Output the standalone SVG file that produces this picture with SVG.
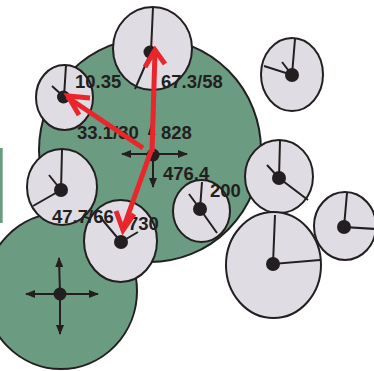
<svg xmlns="http://www.w3.org/2000/svg" width="374" height="371" viewBox="0 0 374 371">
  <defs>
    <style>
      .zone { fill: #6b9b81; stroke: #231f20; stroke-width: 2; }
      .pie { fill: #e0dce3; stroke: #231f20; stroke-width: 2; }
      .spoke { stroke: #231f20; stroke-width: 2; fill: none; stroke-linecap: butt; }
      .hub { fill: #231f20; }
      .move { stroke: #231f20; stroke-width: 2; fill: none; }
      .flow { stroke: #e8262b; stroke-width: 5; fill: none; stroke-linecap: butt; }
      .flowhead { stroke: #e8262b; stroke-width: 5; fill: none; stroke-linejoin: miter; stroke-miterlimit: 10; }
      .lbl { font-family: "Liberation Sans", Arial, sans-serif; font-weight: bold; font-size: 18.5px; fill: #231f20; }
    </style>
    <marker id="tri" viewBox="0 0 10 8" refX="9" refY="4" markerWidth="10" markerHeight="8" markerUnits="userSpaceOnUse" orient="auto">
      <path d="M0,0 L10,4 L0,8 Z" fill="#231f20"/>
    </marker>
  </defs>

  <!-- background zones -->
  <g id="zones">
    <rect x="0" y="148" width="2.7" height="75" fill="#6b9b81"/>
    <ellipse id="zone-main" class="zone" cx="150" cy="150" rx="111" ry="112"/>
    <ellipse id="zone-low" class="zone" cx="61" cy="291" rx="76" ry="78"/>
  </g>

  <!-- pie nodes -->
  <g id="node-top">
    <ellipse class="pie" cx="152.5" cy="48.5" rx="39.5" ry="41.5"/>
    <path class="spoke" d="M153,7 L151,52 L135,89"/>
    <circle class="hub" cx="150" cy="52" r="6.5"/>
  </g>
  <g id="node-a">
    <ellipse class="pie" cx="64.5" cy="97.5" rx="28.5" ry="32.5"/>
    <path class="spoke" d="M66,65 L64,97 M52,86 L64,97"/>
    <circle class="hub" cx="63.5" cy="97" r="6.5"/>
  </g>
  <g id="node-b">
    <ellipse class="pie" cx="292" cy="74.5" rx="31" ry="36.5"/>
    <path class="spoke" d="M295,39 L292,75 L264,66 M282,62 L292,75"/>
    <circle class="hub" cx="292" cy="75" r="7"/>
  </g>
  <g id="node-c">
    <ellipse class="pie" cx="279" cy="176.5" rx="34" ry="36.5"/>
    <path class="spoke" d="M280,141 L279,178 L308,200 M267,165 L279,178"/>
    <circle class="hub" cx="279" cy="178" r="7"/>
  </g>
  <g id="node-d">
    <ellipse class="pie" cx="345" cy="226" rx="31" ry="34"/>
    <path class="spoke" d="M347,193 L344,227 L376,229"/>
    <circle class="hub" cx="344" cy="227" r="7"/>
  </g>
  <g id="node-e">
    <ellipse class="pie" cx="273.5" cy="265" rx="47.5" ry="53"/>
    <path class="spoke" d="M275,215 L273,264 L320,260"/>
    <circle class="hub" cx="273" cy="264" r="7"/>
  </g>
  <g id="node-f">
    <ellipse class="pie" cx="201.5" cy="211" rx="28.5" ry="31"/>
    <path class="spoke" d="M202,182 L200,209 L217,233 M189,194 L200,209"/>
    <circle class="hub" cx="200" cy="209" r="7"/>
  </g>
  <g id="node-g">
    <ellipse class="pie" cx="62" cy="187" rx="35" ry="38"/>
    <path class="spoke" d="M62,150 L61,190 L33,206 M49,175 L61,190"/>
    <circle class="hub" cx="61" cy="190" r="7"/>
  </g>
  <g id="node-h">
    <ellipse class="pie" cx="120.5" cy="241" rx="36.5" ry="41"/>
    <path class="spoke" d="M100,217 L121,242 L138,232"/>
    <circle class="hub" cx="121" cy="242" r="7"/>
  </g>

  <!-- movement handles -->
  <g id="handle-main">
    <path class="move" d="M153,154 L122,154" marker-end="url(#tri)"/>
    <path class="move" d="M153,154 L187,154" marker-end="url(#tri)"/>
    <path class="move" d="M153,154 L153,187" marker-end="url(#tri)"/>
    <path class="move" d="M153,154 L151,126" marker-end="url(#tri)"/>
    <circle class="hub" cx="153" cy="155" r="6.5"/>
  </g>
  <g id="handle-low">
    <path class="move" d="M60,294 L26,294" marker-end="url(#tri)"/>
    <path class="move" d="M60,294 L98,294" marker-end="url(#tri)"/>
    <path class="move" d="M60,294 L59,258" marker-end="url(#tri)"/>
    <path class="move" d="M60,294 L60,334" marker-end="url(#tri)"/>
    <circle class="hub" cx="60" cy="294" r="6.5"/>
  </g>

  <!-- labels -->
  <g id="labels">
    <text class="lbl" x="75" y="88">10.35</text>
    <text class="lbl" x="161" y="88">67.3/58</text>
    <text class="lbl" x="77" y="139">33.1/30</text>
    <text class="lbl" x="161" y="139">828</text>
    <text class="lbl" x="163" y="180">476.4</text>
    <text class="lbl" x="210" y="197">200</text>
    <text class="lbl" x="52" y="223">47.7/66</text>
    <text class="lbl" x="128" y="230">730</text>
  </g>

  <!-- connectors -->
  <g id="connectors">
    <path class="flow" d="M152,152 L155,52"/>
    <polyline class="flowhead" points="145,67 155,50 165,64"/>
    <path class="flow" d="M143,148 L67,97"/>
    <polyline class="flowhead" points="90,98 68,96 79,115"/>
    <path class="flow" d="M151,151 L123,229"/>
    <polyline class="flowhead" points="116,211 123,230 134,214"/>
  </g>
</svg>
